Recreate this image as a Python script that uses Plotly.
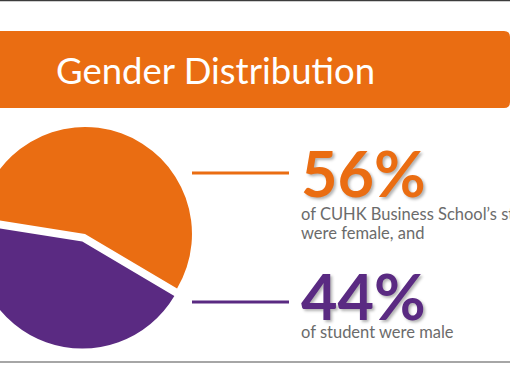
import plotly.graph_objects as go

# ---- data ----
genders = ["Female", "Male"]
shares = [56, 44]
colors = ["#EA6D12", "#5A2A82"]
pulls = [0, 0.075]
title_text = "Gender Distribution"
pct_labels = ["56%", "44%"]
desc_female = ["of CUHK Business School\u2019s students", "were female, and"]
desc_male = ["of student were male"]

# ---- geometry (screen px) ----
OFF = 32            # part of the slide cut off on the left
W, H = 510 + OFF, 382
def X(px):
    return px + OFF

fig = go.Figure()

# pie: center (85, 234) on screen, radius ~107 (+ pull room)
cx, cy, box = X(85), 234, 230
fig.add_trace(go.Pie(
    labels=genders, values=shares, sort=False, direction="clockwise",
    rotation=-81, pull=pulls,
    marker=dict(colors=colors, line=dict(width=0)),
    textinfo="none", hoverinfo="skip", showlegend=False,
    domain=dict(x=[(cx - box / 2) / W, (cx + box / 2) / W],
                y=[(H - cy - box / 2) / H, (H - cy + box / 2) / H]),
))

shapes = [
    # top slide border
    dict(type="line", xref="x", yref="y", x0=0, x1=W, y0=0.5, y1=0.5,
         line=dict(color="#3C3C3C", width=1.5)),
    # orange banner with rounded right corners
    dict(type="path", xref="x", yref="y",
         path=f"M 0,31 L {X(504)},31 Q {X(510)},31 {X(510)},37 L {X(510)},102 "
              f"Q {X(510)},108 {X(504)},108 L 0,108 Z",
         fillcolor="#EA6D12", line=dict(width=0)),
    # connector lines
    dict(type="line", xref="x", yref="y", x0=X(192), x1=X(289), y0=173, y1=173,
         line=dict(color=colors[0], width=3)),
    dict(type="line", xref="x", yref="y", x0=X(192), x1=X(289), y0=302, y1=302,
         line=dict(color=colors[1], width=3)),
    # bottom gray rule
    dict(type="line", xref="x", yref="y", x0=0, x1=W, y0=362, y1=362,
         line=dict(color="#A6A6A6", width=2)),
]

FONT = "Lato, 'Open Sans', sans-serif"
ann = [
    dict(text=title_text, x=X(54), y=70, xanchor="left", yanchor="middle",
         font=dict(family=FONT, size=36.5, color="white")),
    dict(text=pct_labels[0], x=X(299), y=172, xanchor="left", yanchor="middle",
         font=dict(family=FONT, size=63, color=colors[0], weight="bold",
                   shadow="2px 2px 3px rgba(0,0,0,0.3)")),
    dict(text=pct_labels[1], x=X(299), y=295, xanchor="left", yanchor="middle",
         font=dict(family=FONT, size=63, color=colors[1], weight="bold",
                   shadow="2px 2px 3px rgba(0,0,0,0.3)")),
    dict(text=desc_female[0], x=X(299), y=214, xanchor="left", yanchor="middle",
         font=dict(family=FONT, size=16.5, color="#6B6B6B")),
    dict(text=desc_female[1], x=X(299), y=233, xanchor="left", yanchor="middle",
         font=dict(family=FONT, size=16.5, color="#6B6B6B")),
    dict(text=desc_male[0], x=X(299), y=332, xanchor="left", yanchor="middle",
         font=dict(family=FONT, size=16.5, color="#6B6B6B")),
]
for a in ann:
    a.update(xref="x", yref="y", showarrow=False)

fig.update_layout(
    width=W, height=H, margin=dict(l=0, r=0, t=0, b=0),
    paper_bgcolor="white", plot_bgcolor="rgba(0,0,0,0)",
    xaxis=dict(range=[0, W], visible=False, fixedrange=True),
    yaxis=dict(range=[H, 0], visible=False, fixedrange=True),
    shapes=shapes, annotations=ann, showlegend=False,
)

post = (
    "var s=document.createElement('style');"
    "s.textContent='html,body{margin:0;padding:0;overflow:hidden}"
    ".plotly-graph-div text{font-variant-ligatures:none}';"
    "document.head.appendChild(s);"
    "document.getElementById('{plot_id}').style.marginLeft='-%dpx';" % OFF
)
fig.write_html("out.html", config={"displayModeBar": False}, post_script=post)
